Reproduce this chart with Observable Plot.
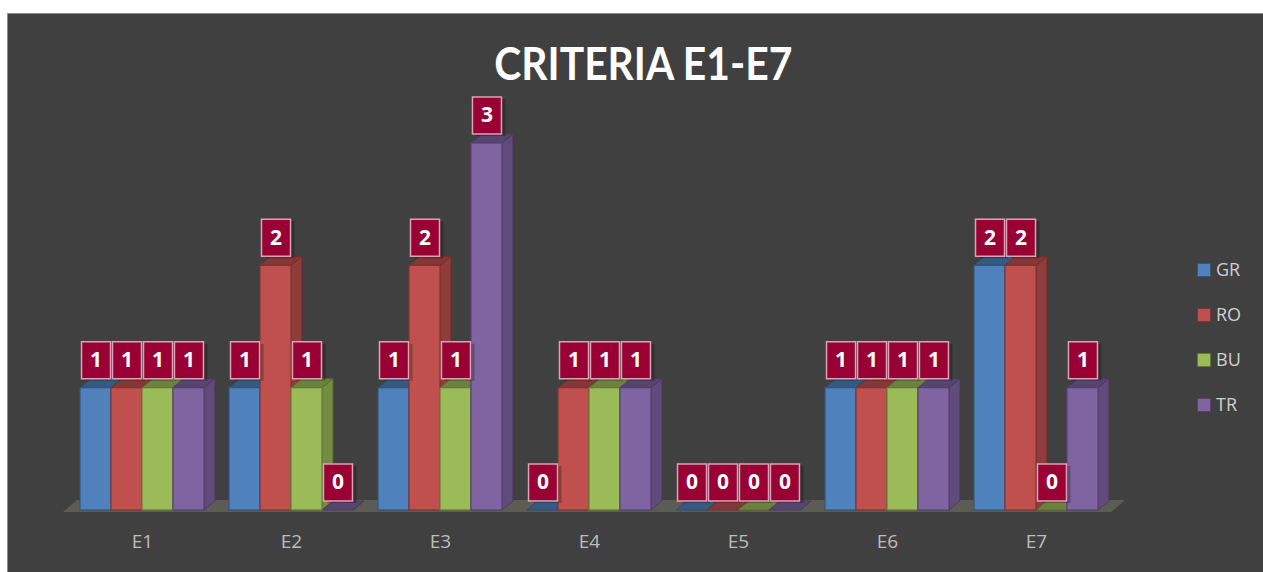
<!DOCTYPE html>
<html><head><meta charset="utf-8">
<script src="https://cdn.jsdelivr.net/npm/d3@7"></script>
<script src="https://cdn.jsdelivr.net/npm/@observablehq/plot@0.6"></script>
<style>
html,body{margin:0;padding:0;background:#fff;}
#chart{position:absolute;left:7px;top:13px;width:1256px;height:559px;background:#404040;border-left:1px solid #8c8c8c;border-top:1px solid #8c8c8c;box-sizing:border-box;overflow:hidden;font-family:"Open Sans",sans-serif;}
#title{position:absolute;left:8px;width:100%;top:27px;text-align:center;color:#fff;font-weight:700;font-size:45px;line-height:1;white-space:nowrap;font-family:Lato,"Open Sans",sans-serif;}
#title span{display:inline-block;transform-origin:center;}
#plot{position:absolute;left:-1px;top:96px;}
.item{position:absolute;height:20px;line-height:20px;color:#d0d0d0;font-size:18px;}
.sw{position:absolute;left:0;top:3px;width:12px;height:12px;border:1px solid;}
.lt{position:absolute;left:19px;top:-1px;}
</style></head>
<body>
<div id="chart">
  <div id="title"><span>CRITERIA E1-E7</span></div>
  <div id="plot"></div>
  <div id="legend"></div>
</div>
<script>
const categories = ["E1","E2","E3","E4","E5","E6","E7"];
const seriesNames = ["GR","RO","BU","TR"];
const GR = [1,1,1,0,0,1,2];
const RO = [1,2,2,1,0,1,2];
const BU = [1,1,1,1,0,1,0];
const TR = [1,0,3,1,0,1,1];
const seriesValues = [GR, RO, BU, TR];
const colors = ["#4F81BD","#C0504D","#9BBB59","#8064A2"];

const W = 1256, H = 460, ML = 59, MR = 152, MT = 33, MB = 60;
const PI = 0.17, PO = 0.085;
const step = (W - ML - MR) / (categories.length - PI + 2 * PO);
const q = step * (1 - PI) / 4;
const D = [11, -9];

const rows = seriesNames.map((s, j) => categories.map((c, i) => ({cat: c, series: s, j, value: seriesValues[j][i]})));

function faceRender(j, kind) {
  const base = d3.color(colors[j]);
  const fill = kind === "side" ? base.darker(0.8) : base.darker(1.05);
  const stroke = base.darker(1.6);
  return (index, scales, values) => {
    const g = d3.create("svg:g");
    for (const i of index) {
      const x0 = values.x[i] + j * q, x1 = x0 + q;
      const top = Math.min(values.y1[i], values.y2[i]), bot = Math.max(values.y1[i], values.y2[i]);
      const pts = kind === "side"
        ? [[x1, bot], [x1, top], [x1 + D[0], top + D[1]], [x1 + D[0], bot + D[1]]]
        : [[x0, top], [x1, top], [x1 + D[0], top + D[1]], [x0 + D[0], top + D[1]]];
      g.append("path").attr("d", "M" + pts.join("L") + "Z")
        .attr("fill", fill).attr("stroke", stroke).attr("stroke-width", 1).attr("stroke-opacity", 0.8);
    }
    return g.node();
  };
}

function floorMark(index, scales, values, dim) {
  const y0 = scales.y(0) + 2;
  const xl = dim.marginLeft - 3, xr = dim.width - dim.marginRight;
  const pts = [[xl, y0], [xr, y0], [xr + D[0] + 3, y0 + D[1] - 3], [xl + D[0] + 3, y0 + D[1] - 3]];
  const p = document.createElementNS("http://www.w3.org/2000/svg", "path");
  p.setAttribute("d", "M" + pts.join("L") + "Z");
  p.setAttribute("fill", "#5d5c54");
  return p;
}

const boxSymbol = {draw(ctx) { ctx.moveTo(-14.5, -18.5); ctx.lineTo(14.5, -18.5); ctx.lineTo(14.5, 18.5); ctx.lineTo(-14.5, 18.5); ctx.closePath(); }};

const marks = [floorMark];
rows.forEach((data, j) => {
  marks.push(Plot.barY(data, {x: "cat", y: "value", insetLeft: j * q, insetRight: (3 - j) * q, fill: "none", render: faceRender(j, "side")}));
});
rows.forEach((data, j) => {
  marks.push(Plot.barY(data, {x: "cat", y: "value", insetLeft: j * q, insetRight: (3 - j) * q, fill: "none", render: faceRender(j, "top")}));
});
rows.forEach((data, j) => {
  marks.push(Plot.barY(data, {x: "cat", y: "value", insetLeft: j * q, insetRight: (3 - j) * q,
    fill: colors[j], stroke: d3.color(colors[j]).darker(1.2).formatHex(), strokeWidth: 1.2}));
});
rows.forEach((data, j) => {
  const dx = (j - 1.5) * q;
  marks.push(Plot.dot(data, {x: "cat", y: "value", dx: dx + 4, dy: -26, symbol: boxSymbol, r: 10, fill: "#000", fillOpacity: 0.25, stroke: "none"}));
  marks.push(Plot.dot(data, {x: "cat", y: "value", dx, dy: -28, symbol: boxSymbol, r: 10, fill: "#990033", stroke: "#dba3b5", strokeWidth: 1.5}));
  marks.push(Plot.text(data, {x: "cat", y: "value", dx, dy: -28, text: d => String(d.value), fill: "#fff", fontSize: 21, fontWeight: "bold"}));
});

const chart = Plot.plot({
  width: W, height: H, marginLeft: ML, marginRight: MR, marginTop: MT, marginBottom: MB,
  style: {background: "transparent", color: "#bdbdbd", fontSize: "19px", fontFamily: "'Open Sans', sans-serif", overflow: "visible"},
  x: {domain: categories, paddingInner: PI, paddingOuter: PO, tickSize: 0, tickPadding: 24, label: null},
  y: {domain: [0, 3], axis: null},
  marks
});
document.getElementById("plot").appendChild(chart);

const legend = document.getElementById("legend");
const legendTop = [246, 291, 336, 381];
seriesNames.forEach((s, j) => {
  const it = document.createElement("div");
  it.className = "item";
  it.style.left = "1189px";
  it.style.top = legendTop[j] + "px";
  it.innerHTML = `<div class="sw" style="background:${colors[j]};border-color:${d3.color(colors[j]).darker(1.2).formatHex()}"></div><div class="lt">${s}</div>`;
  legend.appendChild(it);
});

const span = document.querySelector("#title span");
const w = span.getBoundingClientRect().width;
span.style.transform = `scaleX(${298 / w})`;
</script>
</body></html>
